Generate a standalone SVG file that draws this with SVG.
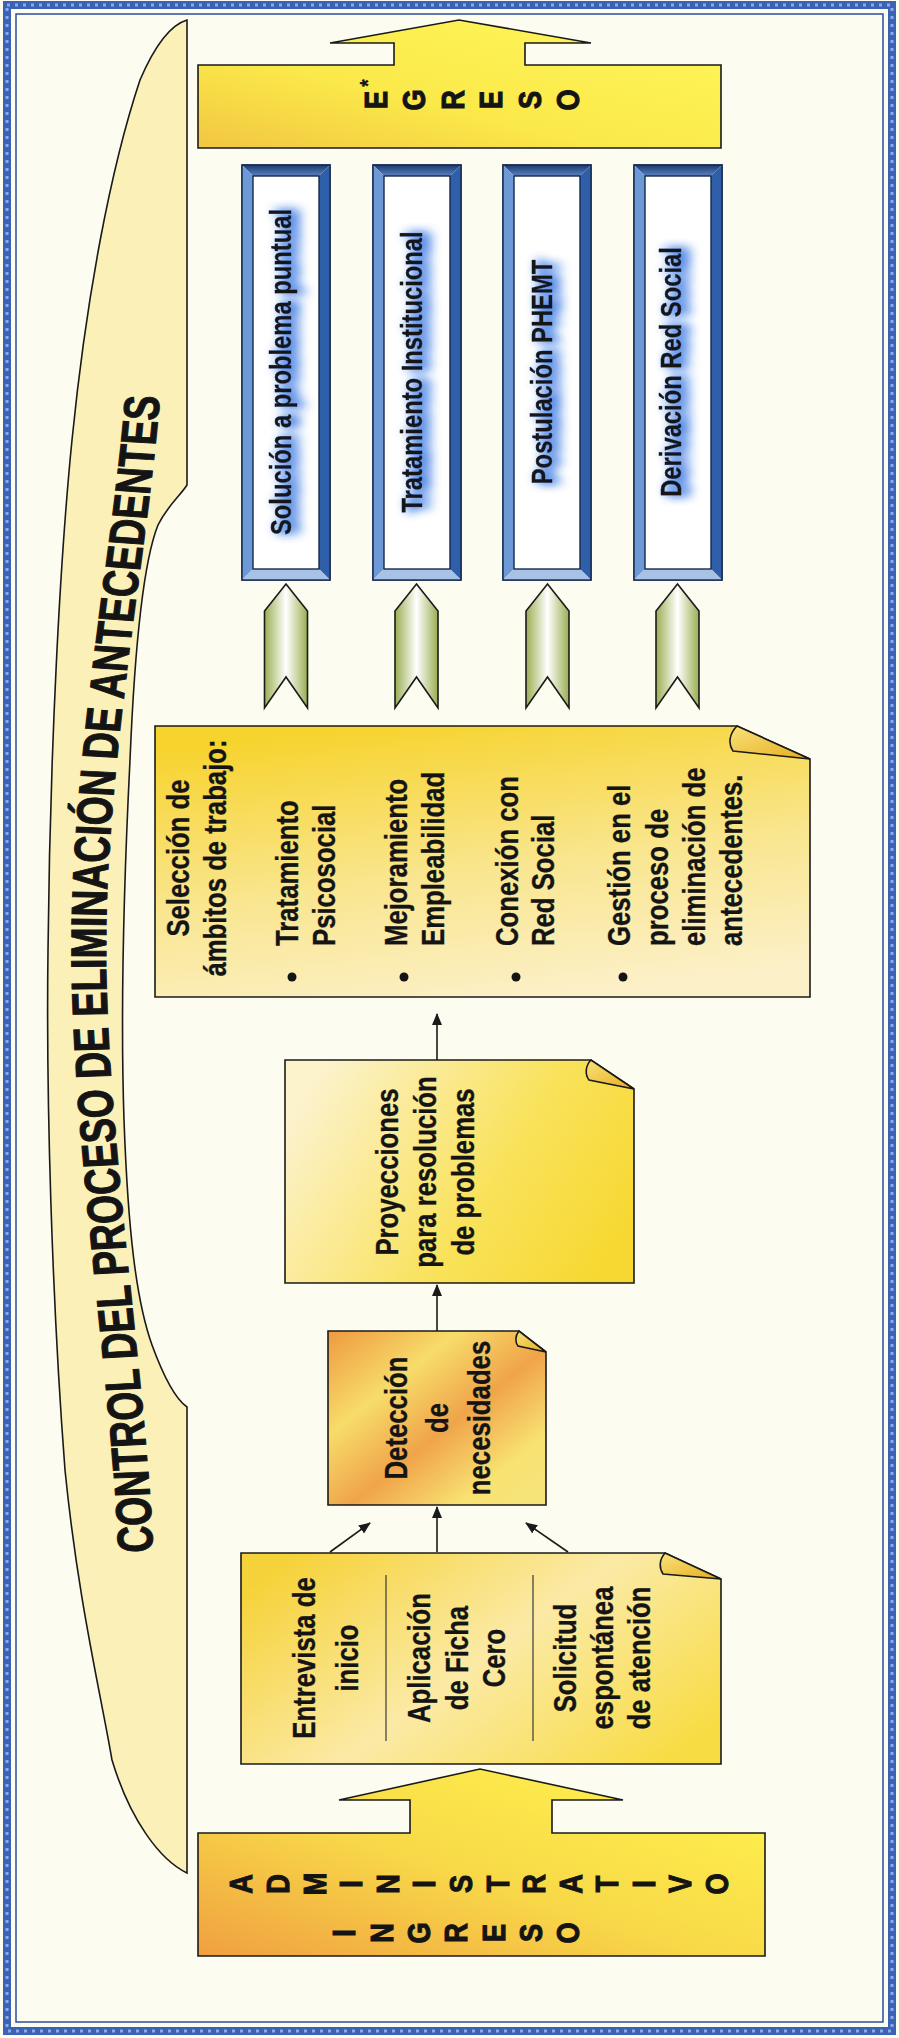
<svg xmlns="http://www.w3.org/2000/svg" width="899" height="2038" viewBox="0 0 899 2038">
<defs>
<style>
.t{font-family:"Liberation Sans",Arial,Helvetica,sans-serif;font-weight:bold;fill:#141414;stroke:#141414;stroke-width:0.35;}
.big{stroke-width:1.1;}
.ol{stroke:#1a1a1a;stroke-width:1.6;stroke-linejoin:miter;}
.conn{stroke:#1a1a1a;stroke-width:1.6;fill:none;marker-end:url(#ah);}
.div{stroke:#3a3a3a;stroke-width:1.2;}
.frame{stroke:#14284d;stroke-width:1.4;}
</style>
<marker id="ah" markerUnits="userSpaceOnUse" markerWidth="12" markerHeight="10" refX="11" refY="5" orient="auto"><path d="M0,0 L12,5 L0,10 z" fill="#1a1a1a"/></marker>
<linearGradient id="gIngreso" x1="0" y1="1" x2="1" y2="0"><stop offset="0" stop-color="#f0a040"/><stop offset="0.45" stop-color="#f8d848"/><stop offset="1" stop-color="#fff64e"/></linearGradient>
<linearGradient id="gEgreso" x1="0" y1="1" x2="1" y2="0"><stop offset="0" stop-color="#f2c642"/><stop offset="0.4" stop-color="#fbe94a"/><stop offset="1" stop-color="#fff75c"/></linearGradient>
<linearGradient id="gEntry" x1="0" y1="0.2" x2="1" y2="0.8"><stop offset="0" stop-color="#f6d23a"/><stop offset="0.5" stop-color="#fbeaa6"/><stop offset="1" stop-color="#f8dc44"/></linearGradient>
<linearGradient id="gDetect" x1="0" y1="0" x2="1" y2="1"><stop offset="0" stop-color="#ee9a40"/><stop offset="0.3" stop-color="#f7dc6a"/><stop offset="0.55" stop-color="#f0a44a"/><stop offset="0.8" stop-color="#f8e272"/><stop offset="1" stop-color="#f6e47a"/></linearGradient>
<linearGradient id="gProy" x1="0" y1="0.3" x2="1" y2="0.7"><stop offset="0" stop-color="#fcf2cc"/><stop offset="0.6" stop-color="#f9e25a"/><stop offset="1" stop-color="#f7d832"/></linearGradient>
<linearGradient id="gSel" x1="0.3" y1="0" x2="0.6" y2="1"><stop offset="0" stop-color="#f7d32e"/><stop offset="0.55" stop-color="#f9e690"/><stop offset="1" stop-color="#fcf0c8"/></linearGradient>
<linearGradient id="gFlap" x1="0" y1="0" x2="1" y2="1"><stop offset="0" stop-color="#f9e37a"/><stop offset="1" stop-color="#e6ac1e"/></linearGradient>
<linearGradient id="gChev" x1="0" y1="0" x2="1" y2="0"><stop offset="0" stop-color="#9aae52"/><stop offset="0.5" stop-color="#ffffff"/><stop offset="1" stop-color="#9aae52"/></linearGradient>
<linearGradient id="gTop" x1="0" y1="0" x2="0" y2="1"><stop offset="0" stop-color="#1c3a70"/><stop offset="1" stop-color="#5a82c0"/></linearGradient>
<filter id="glow" x="-30%" y="-80%" width="160%" height="260%">
<feGaussianBlur in="SourceAlpha" stdDeviation="6" result="b"/>
<feFlood flood-color="#2f6fe0" flood-opacity="0.9"/>
<feComposite in2="b" operator="in" result="c"/>
<feOffset in="c" dx="0" dy="7" result="d"/>
<feMerge><feMergeNode in="d"/><feMergeNode in="d"/><feMergeNode in="SourceGraphic"/></feMerge>
</filter>
<path id="titlePath" d="M153,2083.2 C146,1852.3 108,1543.6 106,1288.6 C104,1020.1 153,698 161,510.1"/>
</defs>

<rect x="0" y="0" width="899" height="2038" fill="#fdfcf0"/>
<g id="border">
<rect x="7" y="5" width="885" height="2026" fill="none" stroke="#3a63b8" stroke-width="8"/>
<rect x="7" y="5" width="885" height="2026" fill="none" stroke="#8fa8e2" stroke-width="3" stroke-dasharray="3 5"/>
<rect x="16" y="14" width="867" height="2008" fill="none" stroke="#2a4d9e" stroke-width="1.5"/>
</g>

<g id="title-banner">
<path class="ol" fill="#fbf0b8" d="M187,20 L187,485 C180,496 168,505 158,525 C144,560 135,640 130,760 C124,880 120,1000 124,1120 C128,1230 136,1300 152,1345 C163,1375 174,1398 187,1407 L187,1873 C160,1860 130,1820 112,1760 C100,1690 78,1600 65,1470 C52,1300 46,1100 48,950 C50,750 60,560 72,440 C86,300 110,170 140,80 C155,45 170,25 187,20 Z"/>
<g transform="scale(1,0.745)">
<text class="t big" font-size="50"><textPath href="#titlePath">CONTROL DEL PROCESO DE ELIMINACIÓN DE ANTECEDENTES</textPath></text>
</g>
</g>

<g id="egreso">
<path class="ol" fill="url(#gEgreso)" d="M198,65 L394,65 L394,43 L330,43 L459,20 L591,43 L525,43 L525,65 L721,65 L721,148 L198,148 Z"/>
<g transform="translate(0,100) rotate(-90) scale(0.85,1)">
<text class="t big" font-size="32" text-anchor="middle" dominant-baseline="central" x="0 0 0 0 0 0" y="376 414 453 491 530 568">EGRESO</text>
<text class="t" font-size="22" text-anchor="middle" dominant-baseline="central" x="20" y="367">*</text>
</g>
</g>

<g id="res-solucion">
<rect x="242" y="165" width="88" height="415" fill="#ffffff" class="frame"/>
<path d="M242,165 L330,165 L319,176 L253,176 Z" fill="url(#gTop)"/>
<path d="M242,165 L253,176 L253,569 L242,580 Z" fill="#6d9ad6"/>
<path d="M330,165 L330,580 L319,569 L319,176 Z" fill="#2f5fa8"/>
<path d="M242,580 L330,580 L319,569 L253,569 Z" fill="#a8c2e6"/>
<rect x="253" y="176" width="66" height="393" fill="#ffffff" class="frame"/>
<rect x="242" y="165" width="88" height="415" fill="none" class="frame"/>
<g transform="translate(0,372) rotate(-90) scale(0.82,1)"><text class="t" filter="url(#glow)" font-size="29" text-anchor="middle" dominant-baseline="central" x="0" y="281">Solución a problema puntual</text></g>
</g>
<g id="res-tratamiento">
<rect x="373" y="165" width="88" height="415" fill="#ffffff" class="frame"/>
<path d="M373,165 L461,165 L450,176 L384,176 Z" fill="url(#gTop)"/>
<path d="M373,165 L384,176 L384,569 L373,580 Z" fill="#6d9ad6"/>
<path d="M461,165 L461,580 L450,569 L450,176 Z" fill="#2f5fa8"/>
<path d="M373,580 L461,580 L450,569 L384,569 Z" fill="#a8c2e6"/>
<rect x="384" y="176" width="66" height="393" fill="#ffffff" class="frame"/>
<rect x="373" y="165" width="88" height="415" fill="none" class="frame"/>
<g transform="translate(0,372) rotate(-90) scale(0.82,1)"><text class="t" filter="url(#glow)" font-size="29" text-anchor="middle" dominant-baseline="central" x="0" y="412">Tratamiento Institucional</text></g>
</g>
<g id="res-postulacion">
<rect x="503" y="165" width="88" height="415" fill="#ffffff" class="frame"/>
<path d="M503,165 L591,165 L580,176 L514,176 Z" fill="url(#gTop)"/>
<path d="M503,165 L514,176 L514,569 L503,580 Z" fill="#6d9ad6"/>
<path d="M591,165 L591,580 L580,569 L580,176 Z" fill="#2f5fa8"/>
<path d="M503,580 L591,580 L580,569 L514,569 Z" fill="#a8c2e6"/>
<rect x="514" y="176" width="66" height="393" fill="#ffffff" class="frame"/>
<rect x="503" y="165" width="88" height="415" fill="none" class="frame"/>
<g transform="translate(0,372) rotate(-90) scale(0.82,1)"><text class="t" filter="url(#glow)" font-size="29" text-anchor="middle" dominant-baseline="central" x="0" y="542">Postulación PHEMT</text></g>
</g>
<g id="res-derivacion">
<rect x="634" y="165" width="88" height="415" fill="#ffffff" class="frame"/>
<path d="M634,165 L722,165 L711,176 L645,176 Z" fill="url(#gTop)"/>
<path d="M634,165 L645,176 L645,569 L634,580 Z" fill="#6d9ad6"/>
<path d="M722,165 L722,580 L711,569 L711,176 Z" fill="#2f5fa8"/>
<path d="M634,580 L722,580 L711,569 L645,569 Z" fill="#a8c2e6"/>
<rect x="645" y="176" width="66" height="393" fill="#ffffff" class="frame"/>
<rect x="634" y="165" width="88" height="415" fill="none" class="frame"/>
<g transform="translate(0,372) rotate(-90) scale(0.82,1)"><text class="t" filter="url(#glow)" font-size="29" text-anchor="middle" dominant-baseline="central" x="0" y="671">Derivación Red Social</text></g>
</g>

<g id="chevron-1"><path class="ol" fill="url(#gChev)" transform="translate(286,0)" d="M0,584 L21.5,611 L21.5,708 L0,677 L-21.5,708 L-21.5,611 Z"/></g>
<g id="chevron-2"><path class="ol" fill="url(#gChev)" transform="translate(416.5,0)" d="M0,584 L21.5,611 L21.5,708 L0,677 L-21.5,708 L-21.5,611 Z"/></g>
<g id="chevron-3"><path class="ol" fill="url(#gChev)" transform="translate(547.5,0)" d="M0,584 L21.5,611 L21.5,708 L0,677 L-21.5,708 L-21.5,611 Z"/></g>
<g id="chevron-4"><path class="ol" fill="url(#gChev)" transform="translate(677.5,0)" d="M0,584 L21.5,611 L21.5,708 L0,677 L-21.5,708 L-21.5,611 Z"/></g>

<g id="seleccion">
<path class="ol" fill="url(#gSel)" d="M155,726 L737,726 L810,759 L810,997 L155,997 Z"/>
<path class="ol" fill="url(#gFlap)" d="M737,726 C729,734 728,744 733,751 L810,759 Z"/>
<g transform="translate(0,858) rotate(-90) scale(0.83,1)">
<text class="t" font-size="31" text-anchor="middle" dominant-baseline="central" x="0" y="178">Selección de</text>
<text class="t" font-size="31" text-anchor="middle" dominant-baseline="central" x="0" y="215">ámbitos de trabajo:</text>
</g>
<circle cx="292" cy="977" r="4.5" fill="#141414"/>
<circle cx="404" cy="977" r="4.5" fill="#141414"/>
<circle cx="516" cy="977" r="4.5" fill="#141414"/>
<circle cx="623" cy="977" r="4.5" fill="#141414"/>
<g transform="translate(0,946) rotate(-90) scale(0.83,1)">
<text class="t" font-size="31" dominant-baseline="central" x="0" y="287">Tratamiento</text>
<text class="t" font-size="31" dominant-baseline="central" x="0" y="324">Psicosocial</text>
<text class="t" font-size="31" dominant-baseline="central" x="0" y="396">Mejoramiento</text>
<text class="t" font-size="31" dominant-baseline="central" x="0" y="433">Empleabilidad</text>
<text class="t" font-size="31" dominant-baseline="central" x="0" y="507">Conexión con</text>
<text class="t" font-size="31" dominant-baseline="central" x="0" y="543">Red Social</text>
<text class="t" font-size="31" dominant-baseline="central" x="0" y="619">Gestión en el</text>
<text class="t" font-size="31" dominant-baseline="central" x="0" y="657">proceso de</text>
<text class="t" font-size="31" dominant-baseline="central" x="0" y="694">eliminación de</text>
<text class="t" font-size="31" dominant-baseline="central" x="0" y="731">antecedentes.</text>
</g>
</g>

<g id="proyecciones">
<path class="ol" fill="url(#gProy)" d="M285,1060 L591,1060 L634,1089 L634,1283 L285,1283 Z"/>
<path class="ol" fill="url(#gFlap)" d="M591,1060 C585,1066 585,1075 589,1080 L634,1089 Z"/>
<g transform="translate(0,1172) rotate(-90) scale(0.83,1)">
<text class="t" font-size="31" text-anchor="middle" dominant-baseline="central" x="0" y="387">Proyecciones</text>
<text class="t" font-size="31" text-anchor="middle" dominant-baseline="central" x="0" y="425">para resolución</text>
<text class="t" font-size="31" text-anchor="middle" dominant-baseline="central" x="0" y="463">de problemas</text>
</g>
</g>

<g id="deteccion">
<path class="ol" fill="url(#gDetect)" d="M328,1331 L519,1331 L546,1352 L546,1505 L328,1505 Z"/>
<path class="ol" fill="url(#gFlap)" d="M519,1331 C515,1336 515,1342 518,1346 L546,1352 Z"/>
<g transform="translate(0,1418) rotate(-90) scale(0.83,1)">
<text class="t" font-size="31" text-anchor="middle" dominant-baseline="central" x="0" y="396">Detección</text>
<text class="t" font-size="31" text-anchor="middle" dominant-baseline="central" x="0" y="437">de</text>
<text class="t" font-size="31" text-anchor="middle" dominant-baseline="central" x="0" y="479">necesidades</text>
</g>
</g>

<g id="entrada">
<path class="ol" fill="url(#gEntry)" d="M241,1553 L665,1553 L721,1579 L721,1764 L241,1764 Z"/>
<path class="ol" fill="url(#gFlap)" d="M665,1553 C659,1560 659,1568 663,1574 L721,1579 Z"/>
<line class="div" x1="386" y1="1575" x2="386" y2="1741"/>
<line class="div" x1="533" y1="1575" x2="533" y2="1741"/>
<g transform="translate(0,1658) rotate(-90) scale(0.83,1)">
<text class="t" font-size="31" text-anchor="middle" dominant-baseline="central" x="0" y="304">Entrevista de</text>
<text class="t" font-size="31" text-anchor="middle" dominant-baseline="central" x="0" y="347">inicio</text>
<text class="t" font-size="31" text-anchor="middle" dominant-baseline="central" x="0" y="419">Aplicación</text>
<text class="t" font-size="31" text-anchor="middle" dominant-baseline="central" x="0" y="457">de Ficha</text>
<text class="t" font-size="31" text-anchor="middle" dominant-baseline="central" x="0" y="494">Cero</text>
<text class="t" font-size="31" text-anchor="middle" dominant-baseline="central" x="0" y="565">Solicitud</text>
<text class="t" font-size="31" text-anchor="middle" dominant-baseline="central" x="0" y="602">espontánea</text>
<text class="t" font-size="31" text-anchor="middle" dominant-baseline="central" x="0" y="639">de atención</text>
</g>
</g>

<g id="ingreso">
<path class="ol" fill="url(#gIngreso)" d="M198,1833 L410,1833 L410,1800 L339,1800 L480,1769 L623,1800 L552,1800 L552,1833 L765,1833 L765,1956 L198,1956 Z"/>
<g transform="translate(0,1884) rotate(-90) scale(0.85,1)">
<text class="t big" font-size="32" text-anchor="middle" dominant-baseline="central" x="0 0 0 0 0 0 0 0 0 0 0 0 0 0" y="241 277.6 314.2 350.8 387.4 424 460.6 497.2 533.8 570.4 607 643.6 680.2 716.8">ADMINISTRATIVO</text>
</g>
<g transform="translate(0,1933) rotate(-90) scale(0.85,1)">
<text class="t big" font-size="32" text-anchor="middle" dominant-baseline="central" x="0 0 0 0 0 0 0" y="344 381.3 418.7 456 493.3 530.7 568">INGRESO</text>
</g>
</g>

<g id="connectors">
<line class="conn" x1="330" y1="1552" x2="370" y2="1523"/>
<line class="conn" x1="437" y1="1552" x2="437" y2="1507"/>
<line class="conn" x1="568" y1="1552" x2="526" y2="1523"/>
<line class="conn" x1="437" y1="1331" x2="437" y2="1285"/>
<line class="conn" x1="437" y1="1060" x2="437" y2="1014"/>
</g>
</svg>
